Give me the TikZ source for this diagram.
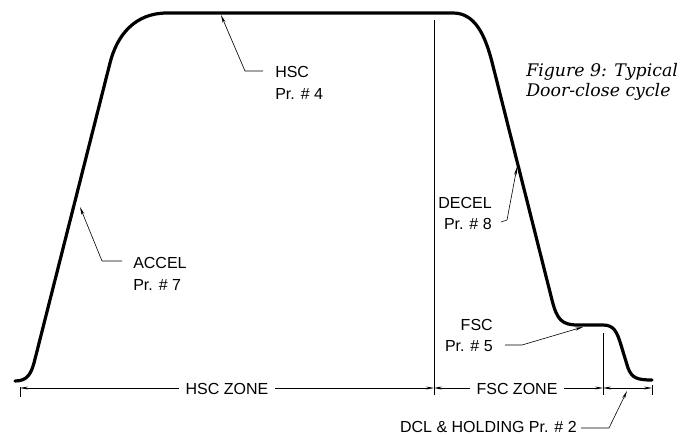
\documentclass[tikz,border=0pt]{standalone}
\usepackage{fontspec}
\setmainfont{Liberation Sans}
\newfontfamily\capfont{DejaVu Serif}
\usetikzlibrary{arrows.meta}
\begin{document}
\begin{tikzpicture}[x=0.75pt,y=-0.75pt,
  curve/.style={line width=2.4pt, line join=round, line cap=round},
  thinline/.style={line width=0.45pt},
  lbl/.style={font=\fontsize{12}{14}\selectfont, inner sep=0pt},
  lblw/.style={lbl, anchor=base west},
  lble/.style={lbl, anchor=base east},
  capline/.style={anchor=base west, inner sep=0pt, font=\capfont\itshape\fontsize{13}{16}\selectfont},
  arr/.style={thinline,-{Stealth[length=6pt,width=2.2pt]}},
  dimarr/.style={thinline,{Stealth[length=6pt,width=2.2pt]}-{Stealth[length=6pt,width=2.2pt]}},
  ztext/.style={font=\fontsize{12}{14}\selectfont, fill=white, inner xsep=5pt, inner ysep=1pt, anchor=base}]
\useasboundingbox (0,0) rectangle (685,435);

% the cycle curve
\draw[curve] (15,381) .. controls (28,381) and (31,373) .. (34,363)
  -- (110,63) .. controls (117,35) and (135,13) .. (167,13)
  -- (453,13) .. controls (475,13) and (485,35) .. (492,62)
  -- (552,300) .. controls (557,320) and (562,325) .. (578,325)
  -- (603,325) .. controls (614,325) and (617,332) .. (621,345)
  -- (628,368) .. controls (632,378) and (637,380) .. (652,380);

% extension lines
\coordinate (v1top) at (434,20);
\coordinate (v1bot) at (434,395);
\coordinate (v2top) at (603,333);
\coordinate (v2bot) at (603,395);
\coordinate (t0top) at (20,387);
\coordinate (t0bot) at (20,397);
\coordinate (t3top) at (652,385);
\coordinate (t3bot) at (652,395);
\draw[thinline] (v1top) -- (v1bot);
\draw[thinline] (v2top) -- (v2bot);
\draw[thinline] (t0top) -- (t0bot);
\draw[thinline] (t3top) -- (t3bot);

% dimension lines
\coordinate (d0) at (20,388);
\coordinate (d1) at (434,388);
\coordinate (d2) at (603,388);
\coordinate (d3) at (652,388);
\draw[dimarr] (d0) -- (d1);
\draw[dimarr] (d1) -- (d2);
\draw[dimarr] (d2) -- (d3);
\node[ztext] (hscz) at (227,394) {HSC ZONE};
\node[ztext] (fscz) at (517,394) {FSC ZONE};

% labels
\node[lblw] (hsc1) at (275,78) {HSC};
\node[lblw] (hsc2) at (275,99) {Pr. \# 4};
\node[lblw] (accel1) at (133,268) {ACCEL};
\node[lblw] (accel2) at (133,290) {Pr. \# 7};
\node[lble] (decel1) at (492,208) {DECEL};
\node[lble] (decel2) at (492,229) {Pr. \# 8};
\node[lble] (fsc1) at (493,330) {FSC};
\node[lble] (fsc2) at (493,351) {Pr. \# 5};
\node[lble] (dcl) at (577,432) {DCL \& HOLDING Pr. \# 2};

% leaders
\coordinate (hscA) at (221,15);
\coordinate (accelA) at (80,207);
\coordinate (decelA) at (517,167);
\coordinate (fscA) at (583,327);
\coordinate (dclA) at (627,391);
\draw[arr] (263,71) -- (245,71) -- (hscA);
\draw[arr] (122,261) -- (102,261) -- (accelA);
\draw[arr] (501,222) -- (507,220) -- (decelA);
\draw[arr] (505,345) -- (522,345) -- (fscA);
\draw[arr] (581,428) -- (609,428) -- (dclA);

% caption
\node[capline] (cap1) at (526,77) {Figure 9: Typical};
\node[capline] (cap2) at (526,97) {Door-close cycle};
\end{tikzpicture}
\end{document}
